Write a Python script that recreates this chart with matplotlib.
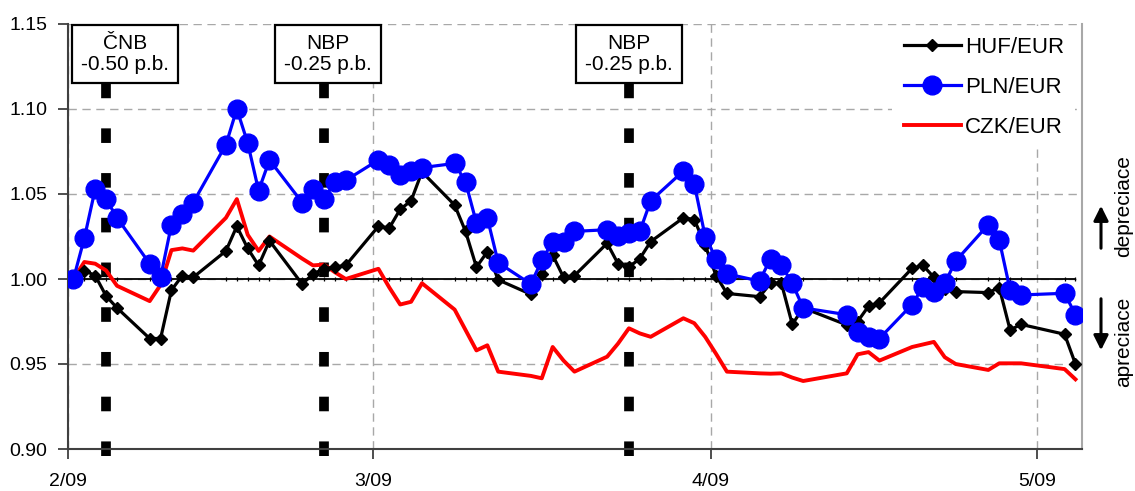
#!/usr/bin/env python
import numpy as np
import pandas as pd
import matplotlib
matplotlib.use('Agg')
import matplotlib.pyplot as plt
import matplotlib.dates as mdates
import matplotlib.ticker as mticker
import matplotlib.transforms as mtransforms

plt.rcParams['font.family'] = ['Liberation Sans', 'DejaVu Sans']

# trading days Feb 2 - May 5 2009 (Easter Monday and May 1 closed)
dates = pd.bdate_range('2009-02-02', '2009-05-05', freq='C',
                       holidays=['2009-04-13', '2009-05-01'])

# exchange rates, index 2.2.2009 = 1
huf_eur = [1.000, 1.005, 1.002, 0.990, 0.983,
           0.965, 0.965, 0.9935, 1.002, 1.001,
           1.0165, 1.031, 1.018, 1.008, 1.0225,
           0.997, 1.003, 1.006, 1.007, 1.008,
           1.031, 1.030, 1.041, 1.046, 1.063,
           1.0435, 1.028, 1.007, 1.016, 0.9995,
           0.991, 1.003, 1.014, 1.001, 1.002,
           1.021, 1.009, 1.007, 1.012, 1.022,
           1.036, 1.035, 1.020, 1.002, 0.9915,
           0.9896, 0.9975, 0.9975, 0.9733, 0.983,
           0.973, 0.975, 0.984, 0.986,
           1.0063, 1.008, 1.001, 0.994, 0.9926,
           0.992, 0.995, 0.970, 0.9733,
           0.9675, 0.950]
pln_eur = [1.000, 1.024, 1.053, 1.047, 1.036,
           1.009, 1.001, 1.032, 1.038, 1.045,
           1.079, 1.100, 1.080, 1.052, 1.070,
           1.045, 1.053, 1.047, 1.057, 1.058,
           1.070, 1.067, 1.061, 1.0635, 1.0655,
           1.068, 1.057, 1.033, 1.036, 1.0096,
           0.997, 1.011, 1.022, 1.022, 1.028,
           1.029, 1.0255, 1.027, 1.028, 1.046,
           1.0635, 1.056, 1.025, 1.012, 1.003,
           0.9988, 1.012, 1.008, 0.9975, 0.983,
           0.979, 0.969, 0.966, 0.965,
           0.985, 0.9955, 0.9926, 0.9975, 1.0106,
           1.032, 1.023, 0.9935, 0.9906,
           0.9916, 0.979]
czk_eur = [1.000, 1.010, 1.009, 1.005, 0.996,
           0.987, 0.9965, 1.017, 1.018, 1.0167,
           1.036, 1.047, 1.026, 1.0165, 1.025,
           1.012, 1.008, 1.0085, 1.004, 1.000,
           1.006, 0.995, 0.985, 0.9866, 0.9975,
           0.982, 0.970, 0.958, 0.961, 0.9455,
           0.943, 0.9416, 0.960, 0.952, 0.9455,
           0.9543, 0.962, 0.971, 0.968, 0.966,
           0.9769, 0.974, 0.966, 0.956, 0.9455,
           0.9445, 0.9443, 0.9445, 0.942, 0.940,
           0.9445, 0.9557, 0.957, 0.952,
           0.960, 0.9615, 0.963, 0.954, 0.950,
           0.9465, 0.9504, 0.9504, 0.9504,
           0.947, 0.941]
base_level = 1.0

# central bank rate cuts
cut_dates = ['2009-02-05', '2009-02-25', '2009-03-25']
cut_labels = ['ČNB\n-0.50 p.b.', 'NBP\n-0.25 p.b.', 'NBP\n-0.25 p.b.']
cut_shift = [13.5, 3.0, 0.0]  # label box offset [pt]


def make_plot():
    fig = plt.figure(figsize=(11.35, 4.91), dpi=100)
    ax = fig.add_axes([68/1135, 1-449/491, 1014/1135, 425/491])

    x = mdates.date2num(dates) - 0.5
    t0 = mdates.date2num(pd.Timestamp('2009-02-01'))
    ax.set_xlim(t0, t0 + 93.1)
    ax.set_ylim(0.90, 1.15)

    ax.yaxis.set_major_locator(mticker.MultipleLocator(0.05))
    ax.yaxis.set_major_formatter(mticker.FormatStrFormatter('%.2f'))
    ax.xaxis.set_major_locator(mdates.MonthLocator())
    ax.xaxis.set_major_formatter(mticker.FuncFormatter(
        lambda v, pos: '{}/{:%y}'.format(mdates.num2date(v).month, mdates.num2date(v))))
    ax.tick_params(axis='both', labelsize=14, length=7, width=1.3, color='#404040')
    ax.tick_params(axis='y', pad=8)
    ax.tick_params(axis='x', pad=10)

    ax.grid(True, color='#a8a8a8', lw=1.0, ls=(0, (6, 4)))
    ax.set_axisbelow(True)
    for s in ['left', 'bottom']:
        ax.spines[s].set_color('#404040')
        ax.spines[s].set_linewidth(1.5)
    ax.spines['top'].set_visible(False)
    ax.spines['right'].set_color('#a8a8a8')
    ax.spines['right'].set_linewidth(1.5)

    # base line at 1.00 with a small tick on every trading day
    ax.plot(x, [base_level]*len(x), color='black', lw=1.3, marker='|', ms=3.5,
            mew=0.9, zorder=2)

    # rate cut markers
    trans = mtransforms.blended_transform_factory(ax.transData, ax.transAxes)
    for d, lab, dx in zip(cut_dates, cut_labels, cut_shift):
        xc = mdates.date2num(pd.Timestamp(d)) - 0.5
        ax.plot([xc, xc], [0.8959, 1.15], color='black', lw=7.0,
                ls=(0, (1.5, 3.1)), solid_capstyle='butt', dash_capstyle='butt',
                clip_on=False, zorder=2)
        ax.annotate(lab, xy=(xc, 1.0), xycoords=trans, xytext=(dx, -7),
                    textcoords='offset points', ha='center', va='top',
                    fontsize=15, linespacing=1.15, zorder=6,
                    bbox=dict(boxstyle='square,pad=0.42', fc='white', ec='black', lw=1.6))

    ax.plot(x, czk_eur, color='red', lw=2.8, label='CZK/EUR', zorder=3)
    ax.plot(x, huf_eur, color='black', lw=2.3, marker='D', ms=6, label='HUF/EUR', zorder=4)
    ax.plot(x, pln_eur, color='blue', lw=2.3, marker='o', ms=13.5, label='PLN/EUR', zorder=5)

    h, l = ax.get_legend_handles_labels()
    order = [1, 2, 0]
    leg = ax.legend([h[i] for i in order], [l[i] for i in order],
                    loc='upper right', bbox_to_anchor=(0.993, 0.995), fontsize=16,
                    frameon=True, fancybox=False, framealpha=1.0, edgecolor='none',
                    handlelength=2.6, handletextpad=0.15, labelspacing=0.85,
                    borderaxespad=0.0, borderpad=0.5)
    leg.set_zorder(7)

    # direction arrows on the right
    ax.annotate('', xy=(1101, 491-203), xytext=(1101, 491-251), xycoords='figure pixels',
                arrowprops=dict(arrowstyle='-|>', color='black', lw=2.2, mutation_scale=22))
    ax.annotate('', xy=(1101, 491-353), xytext=(1101, 491-296), xycoords='figure pixels',
                arrowprops=dict(arrowstyle='-|>', color='black', lw=2.2, mutation_scale=22))
    fig.text(1124/1135, 1-206/491, 'depreciace', rotation=90, ha='center', va='center', fontsize=15)
    fig.text(1124/1135, 1-342/491, 'apreciace', rotation=90, ha='center', va='center', fontsize=15)

    return fig


if __name__ == '__main__':
    fig = make_plot()
    fig.savefig('out.png', dpi=100)
